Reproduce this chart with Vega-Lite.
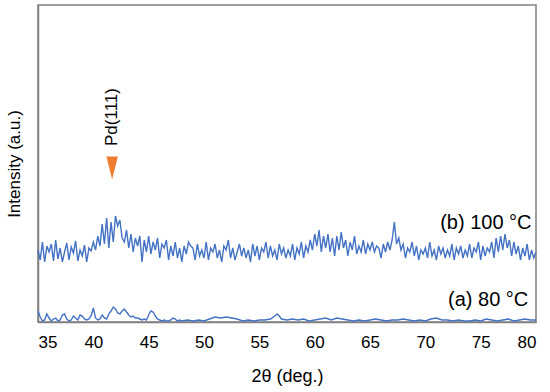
{
  "$schema": "https://vega.github.io/schema/vega-lite/v6.json",
  "width": 498,
  "height": 317,
  "autosize": {"type": "none"},
  "padding": {"left": 38, "top": 5, "right": 14, "bottom": 70},
  "background": "white",
  "config": {
    "view": {"stroke": "#808080", "strokeWidth": 1.5},
    "font": "Liberation Sans",
    "axis": {"grid": false, "ticks": false, "labelFont": "Liberation Sans", "titleFont": "Liberation Sans", "labelColor": "#000", "titleColor": "#000", "titleFontWeight": "normal", "domainColor": "#808080", "domainWidth": 1.5}
  },
  "datasets": {
    "b": [
      {"t":35.0,"i":72},{"t":35.2,"i":62},{"t":35.4,"i":80},{"t":35.6,"i":60},{"t":35.8,"i":76},
      {"t":36.0,"i":70},{"t":36.2,"i":78},{"t":36.4,"i":61},{"t":36.6,"i":82},{"t":36.8,"i":63},
      {"t":37.0,"i":74},{"t":37.2,"i":60},{"t":37.4,"i":70},{"t":37.6,"i":79},{"t":37.8,"i":62},
      {"t":38.0,"i":75},{"t":38.2,"i":69},{"t":38.4,"i":81},{"t":38.6,"i":61},{"t":38.8,"i":72},
      {"t":39.0,"i":66},{"t":39.2,"i":77},{"t":39.4,"i":60},{"t":39.6,"i":74},{"t":39.8,"i":71},
      {"t":40.0,"i":80},{"t":40.2,"i":72},{"t":40.4,"i":86},{"t":40.6,"i":76},{"t":40.8,"i":98},
      {"t":41.0,"i":78},{"t":41.2,"i":104},{"t":41.4,"i":74},{"t":41.6,"i":100},{"t":41.8,"i":80},
      {"t":42.0,"i":106},{"t":42.2,"i":96},{"t":42.4,"i":102},{"t":42.6,"i":84},{"t":42.8,"i":80},
      {"t":43.0,"i":92},{"t":43.2,"i":74},{"t":43.4,"i":88},{"t":43.6,"i":70},{"t":43.8,"i":84},
      {"t":44.0,"i":76},{"t":44.2,"i":86},{"t":44.4,"i":60},{"t":44.6,"i":82},{"t":44.8,"i":70},
      {"t":45.0,"i":86},{"t":45.2,"i":68},{"t":45.4,"i":80},{"t":45.6,"i":72},{"t":45.8,"i":84},
      {"t":46.0,"i":64},{"t":46.2,"i":78},{"t":46.4,"i":74},{"t":46.6,"i":82},{"t":46.8,"i":62},
      {"t":47.0,"i":76},{"t":47.2,"i":66},{"t":47.4,"i":80},{"t":47.6,"i":64},{"t":47.8,"i":74},
      {"t":48.0,"i":60},{"t":48.2,"i":76},{"t":48.4,"i":68},{"t":48.6,"i":80},{"t":48.8,"i":76},
      {"t":49.0,"i":74},{"t":49.2,"i":62},{"t":49.4,"i":78},{"t":49.6,"i":66},{"t":49.8,"i":72},
      {"t":50.0,"i":64},{"t":50.2,"i":80},{"t":50.4,"i":62},{"t":50.6,"i":74},{"t":50.8,"i":70},
      {"t":51.0,"i":78},{"t":51.2,"i":64},{"t":51.4,"i":72},{"t":51.6,"i":60},{"t":51.8,"i":76},
      {"t":52.0,"i":72},{"t":52.2,"i":82},{"t":52.4,"i":64},{"t":52.6,"i":74},{"t":52.8,"i":62},
      {"t":53.0,"i":70},{"t":53.2,"i":78},{"t":53.4,"i":66},{"t":53.6,"i":74},{"t":53.8,"i":64},
      {"t":54.0,"i":72},{"t":54.2,"i":60},{"t":54.4,"i":78},{"t":54.6,"i":66},{"t":54.8,"i":76},
      {"t":55.0,"i":62},{"t":55.2,"i":74},{"t":55.4,"i":70},{"t":55.6,"i":80},{"t":55.8,"i":64},
      {"t":56.0,"i":76},{"t":56.2,"i":66},{"t":56.4,"i":72},{"t":56.6,"i":62},{"t":56.8,"i":78},
      {"t":57.0,"i":68},{"t":57.2,"i":74},{"t":57.4,"i":64},{"t":57.6,"i":72},{"t":57.8,"i":66},
      {"t":58.0,"i":78},{"t":58.2,"i":62},{"t":58.4,"i":74},{"t":58.6,"i":68},{"t":58.8,"i":80},
      {"t":59.0,"i":64},{"t":59.2,"i":76},{"t":59.4,"i":70},{"t":59.6,"i":82},{"t":59.8,"i":72},
      {"t":60.0,"i":88},{"t":60.2,"i":76},{"t":60.4,"i":92},{"t":60.6,"i":70},{"t":60.8,"i":86},
      {"t":61.0,"i":74},{"t":61.2,"i":88},{"t":61.4,"i":70},{"t":61.6,"i":84},{"t":61.8,"i":66},
      {"t":62.0,"i":86},{"t":62.2,"i":72},{"t":62.4,"i":90},{"t":62.6,"i":74},{"t":62.8,"i":82},
      {"t":63.0,"i":66},{"t":63.2,"i":80},{"t":63.4,"i":72},{"t":63.6,"i":86},{"t":63.8,"i":68},
      {"t":64.0,"i":76},{"t":64.2,"i":70},{"t":64.4,"i":82},{"t":64.6,"i":68},{"t":64.8,"i":78},
      {"t":65.0,"i":72},{"t":65.2,"i":80},{"t":65.4,"i":70},{"t":65.6,"i":76},{"t":65.8,"i":74},
      {"t":66.0,"i":64},{"t":66.2,"i":78},{"t":66.4,"i":70},{"t":66.6,"i":80},{"t":66.8,"i":72},
      {"t":67.0,"i":82},{"t":67.2,"i":100},{"t":67.4,"i":78},{"t":67.6,"i":84},{"t":67.8,"i":72},
      {"t":68.0,"i":78},{"t":68.2,"i":64},{"t":68.4,"i":74},{"t":68.6,"i":70},{"t":68.8,"i":80},
      {"t":69.0,"i":66},{"t":69.2,"i":76},{"t":69.4,"i":62},{"t":69.6,"i":72},{"t":69.8,"i":68},
      {"t":70.0,"i":74},{"t":70.2,"i":64},{"t":70.4,"i":80},{"t":70.6,"i":66},{"t":70.8,"i":72},
      {"t":71.0,"i":62},{"t":71.2,"i":76},{"t":71.4,"i":68},{"t":71.6,"i":74},{"t":71.8,"i":64},
      {"t":72.0,"i":72},{"t":72.2,"i":66},{"t":72.4,"i":78},{"t":72.6,"i":62},{"t":72.8,"i":74},
      {"t":73.0,"i":68},{"t":73.2,"i":76},{"t":73.4,"i":64},{"t":73.6,"i":72},{"t":73.8,"i":66},
      {"t":74.0,"i":78},{"t":74.2,"i":64},{"t":74.4,"i":74},{"t":74.6,"i":70},{"t":74.8,"i":80},
      {"t":75.0,"i":62},{"t":75.2,"i":76},{"t":75.4,"i":66},{"t":75.6,"i":74},{"t":75.8,"i":70},
      {"t":76.0,"i":80},{"t":76.2,"i":64},{"t":76.4,"i":84},{"t":76.6,"i":70},{"t":76.8,"i":86},
      {"t":77.0,"i":72},{"t":77.2,"i":88},{"t":77.4,"i":74},{"t":77.6,"i":82},{"t":77.8,"i":66},
      {"t":78.0,"i":80},{"t":78.2,"i":68},{"t":78.4,"i":76},{"t":78.6,"i":62},{"t":78.8,"i":74},
      {"t":79.0,"i":66},{"t":79.2,"i":78},{"t":79.4,"i":62},{"t":79.6,"i":72},{"t":79.8,"i":64},
      {"t":80.0,"i":70}
    ],
    "a": [
      {"t":35.0,"i":11},{"t":35.2,"i":5},{"t":35.4,"i":1},{"t":35.6,"i":2},{"t":35.8,"i":8},
      {"t":36.0,"i":4},{"t":36.2,"i":1},{"t":36.4,"i":3},{"t":36.6,"i":4},{"t":36.8,"i":1},
      {"t":37.0,"i":2},{"t":37.2,"i":7},{"t":37.4,"i":8},{"t":37.6,"i":3},{"t":37.8,"i":1},
      {"t":38.0,"i":2},{"t":38.2,"i":6},{"t":38.4,"i":4},{"t":38.6,"i":2},{"t":38.8,"i":7},
      {"t":39.0,"i":6},{"t":39.2,"i":3},{"t":39.4,"i":2},{"t":39.6,"i":3},{"t":39.8,"i":6},
      {"t":40.0,"i":14},{"t":40.2,"i":4},{"t":40.4,"i":2},{"t":40.6,"i":3},{"t":40.8,"i":7},
      {"t":41.0,"i":4},{"t":41.2,"i":3},{"t":41.4,"i":8},{"t":41.6,"i":11},{"t":41.8,"i":15},
      {"t":42.0,"i":13},{"t":42.2,"i":9},{"t":42.4,"i":8},{"t":42.6,"i":11},{"t":42.8,"i":13},
      {"t":43.0,"i":10},{"t":43.2,"i":7},{"t":43.4,"i":5},{"t":43.6,"i":6},{"t":43.8,"i":4},
      {"t":44.0,"i":4},{"t":44.2,"i":3},{"t":44.4,"i":2},{"t":44.6,"i":3},{"t":44.8,"i":2},
      {"t":45.0,"i":7},{"t":45.2,"i":11},{"t":45.4,"i":10},{"t":45.6,"i":6},{"t":45.8,"i":3},
      {"t":46.0,"i":2},{"t":46.2,"i":1},{"t":46.4,"i":2},{"t":46.6,"i":1},{"t":46.8,"i":1},
      {"t":47.0,"i":2},{"t":47.2,"i":4},{"t":47.4,"i":3},{"t":47.6,"i":1},{"t":47.8,"i":2},
      {"t":48.0,"i":1},{"t":48.5,"i":2},{"t":49.0,"i":1},{"t":49.5,"i":2},{"t":50.0,"i":1},
      {"t":50.5,"i":3},{"t":51.0,"i":5},{"t":51.5,"i":4},{"t":52.0,"i":5},{"t":52.5,"i":4},
      {"t":53.0,"i":3},{"t":53.5,"i":1},{"t":54.0,"i":2},{"t":54.5,"i":1},{"t":55.0,"i":2},
      {"t":55.5,"i":2},{"t":56.0,"i":3},{"t":56.4,"i":6},{"t":56.6,"i":8},{"t":56.8,"i":6},
      {"t":57.0,"i":3},{"t":57.5,"i":2},{"t":58.0,"i":3},{"t":58.5,"i":2},{"t":59.0,"i":3},
      {"t":59.5,"i":1},{"t":60.0,"i":2},{"t":60.5,"i":3},{"t":61.0,"i":4},{"t":61.5,"i":2},
      {"t":62.0,"i":4},{"t":62.5,"i":3},{"t":63.0,"i":2},{"t":63.5,"i":1},{"t":64.0,"i":2},
      {"t":64.5,"i":1},{"t":65.0,"i":2},{"t":65.5,"i":3},{"t":66.0,"i":2},{"t":66.5,"i":1},
      {"t":67.0,"i":2},{"t":67.5,"i":2},{"t":68.0,"i":3},{"t":68.5,"i":2},{"t":69.0,"i":1},
      {"t":69.5,"i":2},{"t":70.0,"i":1},{"t":70.5,"i":3},{"t":71.0,"i":4},{"t":71.5,"i":2},
      {"t":72.0,"i":2},{"t":72.5,"i":1},{"t":73.0,"i":2},{"t":73.5,"i":1},{"t":74.0,"i":1},
      {"t":74.5,"i":2},{"t":75.0,"i":1},{"t":75.5,"i":3},{"t":76.0,"i":2},{"t":76.5,"i":1},
      {"t":77.0,"i":2},{"t":77.5,"i":3},{"t":78.0,"i":1},{"t":78.5,"i":2},{"t":79.0,"i":3},
      {"t":79.5,"i":2},{"t":80.0,"i":2}
    ],
    "labels": [
      {"t":79.6,"i":99,"label":"(b) 100 °C"},
      {"t":79.3,"i":22,"label":"(a) 80 °C"}
    ],
    "peak": [
      {"t":41.7,"i":154,"label":"Pd(111)","ty":205}
    ]
  },
  "encoding": {
    "x": {"field": "t", "type": "quantitative", "scale": {"domain": [35, 80], "nice": false},
      "axis": {"title": "2θ (deg.)", "values": [35,40,45,50,55,60,65,70,75,80], "labelFontSize": 17, "labelPadding": 12, "titleFontSize": 18, "titlePadding": 17}},
    "y": {"field": "i", "type": "quantitative", "scale": {"domain": [0, 317], "nice": false},
      "axis": {"title": "Intensity (a.u.)", "labels": false, "titleFontSize": 17, "titlePadding": 15}}
  },
  "layer": [
    {"data": {"name": "b"}, "mark": {"type": "line", "color": "#4472C4", "strokeWidth": 1.4}},
    {"data": {"name": "a"}, "mark": {"type": "line", "color": "#4472C4", "strokeWidth": 1.4}},
    {"data": {"name": "labels"}, "mark": {"type": "text", "align": "right", "baseline": "middle", "fontSize": 20, "font": "Liberation Sans", "color": "#000"},
      "encoding": {"text": {"field": "label"}}},
    {"data": {"name": "peak"}, "mark": {"type": "point", "shape": "M-0.5,-1L0.5,-1L0,1Z", "filled": true, "color": "#ED7D31", "opacity": 1, "size": 529}},
    {"data": {"name": "peak"}, "mark": {"type": "text", "angle": 270, "align": "center", "baseline": "middle", "fontSize": 17, "font": "Liberation Sans", "color": "#000"},
      "encoding": {"y": {"field": "ty", "type": "quantitative"}, "text": {"field": "label"}}}
  ]
}
